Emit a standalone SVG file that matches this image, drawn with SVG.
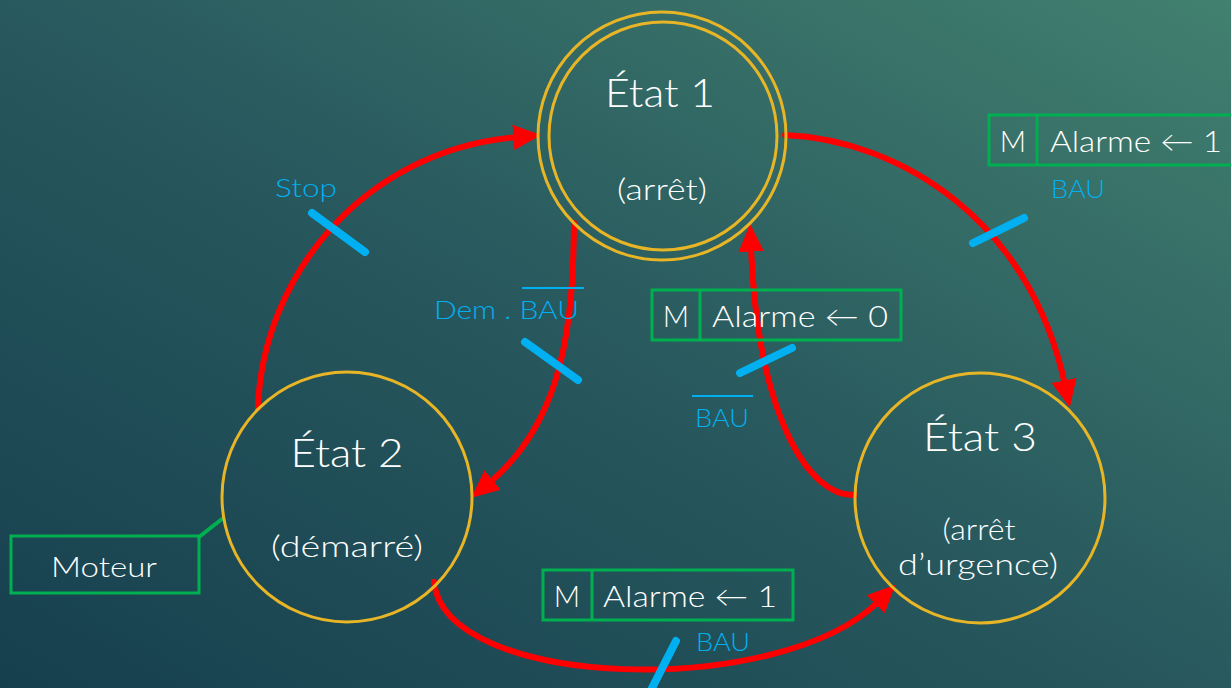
<svg xmlns="http://www.w3.org/2000/svg" width="1231" height="688" viewBox="0 0 1231 688">
<defs>
<linearGradient id="bg" x1="0" y1="1" x2="1" y2="0">
<stop offset="0" stop-color="#163f4e"/>
<stop offset="0.5" stop-color="#28595e"/>
<stop offset="1" stop-color="#42806f"/>
</linearGradient>
<marker id="ah" markerUnits="userSpaceOnUse" markerWidth="30" markerHeight="30" viewBox="0 -12 26 24" refX="4" refY="0" orient="auto">
<path d="M0,-11 L24,0 L0,11 z" fill="#ff0000"/>
</marker>
<style>
.st{fill:none;stroke:#e8b526;stroke-width:3}
.w{font-family:Lato,"Open Sans",sans-serif;font-weight:300;fill:#ffffff}
.b{font-family:Lato,"Open Sans",sans-serif;font-weight:300;fill:#00b0f0}
.bx{fill:none;stroke:#00b050;stroke-width:3}
.ar{fill:none;stroke:#ff0000;stroke-width:6;stroke-linecap:round;marker-end:url(#ah)}
.tk{stroke:#00b0f0;stroke-width:8;stroke-linecap:round}
.ol{stroke:#00b0f0;stroke-width:2}
</style>
</defs>
<rect width="1231" height="688" fill="url(#bg)"/>
<g id="connectors">
<path class="ar" d="M258,408 C262,280 360,150 518,137"/>
<path class="ar" d="M574,223 C573,320 565,420 489,483"/>
<path class="ar" d="M785,135 C900,140 1030,220 1065,385"/>
<path class="ar" d="M855,495 C810,497 758,420 751,247"/>
<path class="ar" d="M434,582 C445,690 780,700 879,601"/>
<line x1="199" y1="537" x2="222" y2="519" stroke="#00b050" stroke-width="4" stroke-linecap="round"/>
</g>
<g id="etat1">
<circle class="st" cx="662" cy="136" r="124"/>
<circle class="st" cx="663" cy="136" r="114"/>
<text class="w" x="660" y="107" font-size="40" text-anchor="middle" textLength="110" lengthAdjust="spacingAndGlyphs">État 1</text>
<text class="w" x="662" y="200" font-size="29" text-anchor="middle" textLength="90" lengthAdjust="spacingAndGlyphs">(arrêt)</text>
</g>
<g id="etat2">
<circle class="st" cx="347" cy="497" r="125"/>
<text class="w" x="347" y="467" font-size="40" text-anchor="middle" textLength="113" lengthAdjust="spacingAndGlyphs">État 2</text>
<text class="w" x="347" y="557" font-size="29" text-anchor="middle" textLength="152" lengthAdjust="spacingAndGlyphs">(démarré)</text>
</g>
<g id="etat3">
<circle class="st" cx="980" cy="498" r="125"/>
<text class="w" x="980" y="451" font-size="40" text-anchor="middle" textLength="114" lengthAdjust="spacingAndGlyphs">État 3</text>
<text class="w" x="979" y="540" font-size="29" text-anchor="middle" textLength="73" lengthAdjust="spacingAndGlyphs">(arrêt</text>
<text class="w" x="978" y="575" font-size="29" text-anchor="middle" textLength="160" lengthAdjust="spacingAndGlyphs">d’urgence)</text>
</g>
<g id="moteur">
<rect class="bx" x="11" y="536" width="188" height="57"/>
<text class="w" x="104" y="577" font-size="28" text-anchor="middle" textLength="106" lengthAdjust="spacingAndGlyphs">Moteur</text>
</g>
<g id="action-top">
<rect class="bx" x="989" y="115" width="250" height="50"/>
<line class="bx" x1="1037" y1="115" x2="1037" y2="165"/>
<text class="w" x="1013" y="152" font-size="29" text-anchor="middle">M</text>
<text class="w" x="1050" y="152" font-size="29" textLength="172" lengthAdjust="spacingAndGlyphs">Alarme ← 1</text>
</g>
<g id="action-mid">
<rect class="bx" x="652" y="290" width="249" height="50"/>
<line class="bx" x1="700" y1="290" x2="700" y2="340"/>
<text class="w" x="676" y="327" font-size="29" text-anchor="middle">M</text>
<text class="w" x="712" y="327" font-size="29" textLength="176" lengthAdjust="spacingAndGlyphs">Alarme ← 0</text>
</g>
<g id="action-bottom">
<rect class="bx" x="543" y="570" width="250" height="50"/>
<line class="bx" x1="592" y1="570" x2="592" y2="620"/>
<text class="w" x="567" y="607" font-size="29" text-anchor="middle">M</text>
<text class="w" x="603" y="607" font-size="29" textLength="174" lengthAdjust="spacingAndGlyphs">Alarme ← 1</text>
</g>
<g id="cond-stop">
<line class="tk" x1="312" y1="213" x2="365" y2="252"/>
<text class="b" x="275" y="197" font-size="26" textLength="62" lengthAdjust="spacingAndGlyphs">Stop</text>
</g>
<g id="cond-dem">
<line class="tk" x1="525" y1="342" x2="578" y2="380"/>
<text class="b" x="434" y="319" font-size="26" textLength="145" lengthAdjust="spacingAndGlyphs">Dem . BAU</text>
<line class="ol" x1="522" y1="288" x2="584" y2="288"/>
</g>
<g id="cond-bau-top">
<line class="tk" x1="973" y1="243" x2="1024" y2="218"/>
<text class="b" x="1051" y="198" font-size="26" textLength="54" lengthAdjust="spacingAndGlyphs">BAU</text>
</g>
<g id="cond-bau-mid">
<line class="tk" x1="740" y1="373" x2="792" y2="348"/>
<line class="ol" x1="692" y1="396" x2="753" y2="396"/>
<text class="b" x="722" y="427" font-size="26" text-anchor="middle" textLength="54" lengthAdjust="spacingAndGlyphs">BAU</text>
</g>
<g id="cond-bau-bottom">
<line class="tk" x1="676" y1="641" x2="650" y2="692"/>
<text class="b" x="696" y="651" font-size="26" textLength="54" lengthAdjust="spacingAndGlyphs">BAU</text>
</g>
</svg>
